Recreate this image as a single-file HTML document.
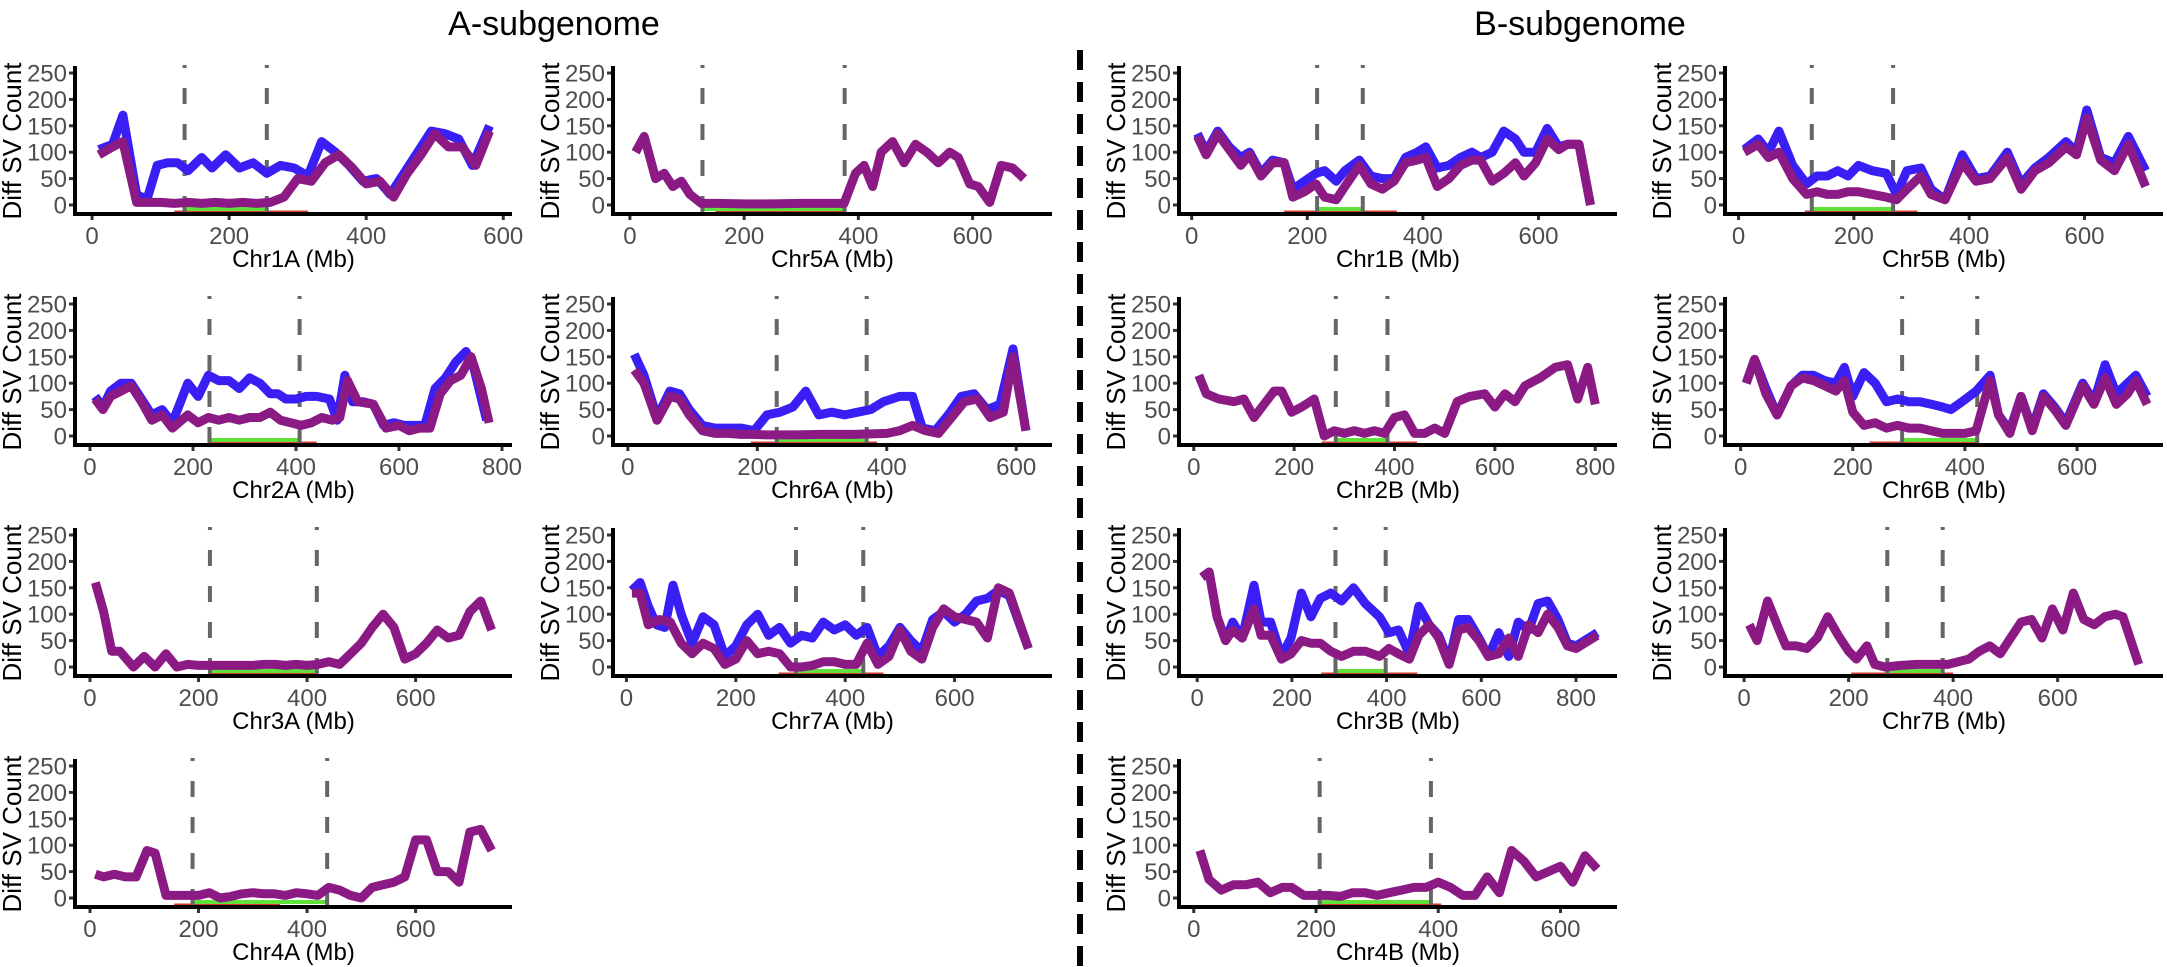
<!DOCTYPE html>
<html><head><meta charset="utf-8"><style>
html,body{margin:0;padding:0;background:#fff;}
svg{display:block;}
text{font-family:"Liberation Sans",Arial,sans-serif;}
</style></head><body>
<svg id="s" width="2167" height="967" viewBox="0 0 2167 967" xmlns="http://www.w3.org/2000/svg">
<text x="554" y="35" font-size="34" text-anchor="middle" fill="#000">A-subgenome</text>
<text x="1580" y="35" font-size="34" text-anchor="middle" fill="#000">B-subgenome</text>
<line x1="1080" y1="50" x2="1080" y2="967" stroke="#000" stroke-width="6" stroke-dasharray="20 12"/>
</svg>
<script>
const S=document.getElementById('s');const NS='http://www.w3.org/2000/svg';
function el(t,a,txt){const e=document.createElementNS(NS,t);for(const k in a)e.setAttribute(k,a[k]);if(txt!==undefined)e.textContent=txt;S.appendChild(e);return e;}
const COLS=[[75,512],[613,1052],[1179,1617],[1725,2163]];
const ROWS=[214,445,676,907];
const P=[
{n:'Chr1A',r:0,c:0,off:0,z0:133,k:0.99,d:[135,255],red:[120,315],max:600,
b:[[10,105],[30,115],[45,170],[65,20],[80,10],[95,75],[110,80],[125,80],[140,65],[160,90],[175,70],[195,95],[215,70],[235,80],[255,60],[275,75],[295,70],[315,55],[335,120],[355,100],[375,75],[395,45],[415,50],[435,20],[455,60],[475,100],[495,140],[515,135],[535,125],[555,75],[580,150]],
p:[[10,95],[30,110],[45,120],[65,5],[80,5],[100,5],[120,3],[140,5],[160,3],[180,5],[200,3],[220,5],[240,3],[260,5],[280,15],[300,50],[320,45],[340,80],[360,95],[380,70],[400,40],[420,45],[440,15],[460,60],[480,95],[500,135],[520,110],[540,110],[560,75],[580,140]]},
{n:'Chr5A',r:0,c:1,off:0,z0:910,k:0.825,d:[127,376],red:[150,376],max:600,
p:[[10,100],[25,130],[45,50],[60,60],[75,35],[90,45],[105,20],[125,3],[150,3],[200,2],[250,2],[300,3],[350,3],[375,3],[395,60],[410,75],[425,35],[440,100],[460,120],[480,80],[500,115],[520,100],[540,80],[560,100],[575,90],[595,40],[610,35],[630,5],[650,75],[670,70],[690,50]]},
{n:'Chr2A',r:1,c:0,off:0,z0:130,k:0.744,d:[232,407],red:[232,440],max:800,
b:[[10,75],[25,55],[40,85],[60,100],[80,100],[100,70],[120,40],[140,50],[160,25],[190,100],[210,75],[230,115],[250,105],[270,105],[290,90],[310,110],[330,100],[350,80],[365,80],[380,70],[400,70],[420,75],[440,75],[465,70],[480,30],[495,115],[510,65],[530,65],[550,60],[570,20],[590,25],[610,20],[630,20],[650,20],[670,90],[690,110],[710,140],[730,160],[745,130],[770,30]],
p:[[10,70],[25,50],[40,75],[60,85],[80,95],[100,65],[120,30],[140,40],[160,15],[190,40],[210,25],[230,35],[250,30],[270,35],[290,30],[310,35],[330,35],[350,45],[370,30],[390,25],[410,20],[430,25],[450,35],[470,30],[485,35],[500,105],[520,65],[550,60],[575,15],[600,20],[620,10],[640,15],[660,15],[680,80],[700,105],[720,115],[740,150],[760,90],[775,25]]},
{n:'Chr6A',r:1,c:1,off:0,z0:907,k:0.935,d:[230,369],red:[190,385],max:600,
b:[[10,155],[25,115],[45,35],[65,85],[80,80],[95,50],[115,20],[135,15],[155,15],[175,15],[195,10],[215,40],[235,45],[255,55],[275,85],[295,40],[315,45],[335,40],[355,45],[375,50],[395,65],[420,75],[440,75],[455,15],[475,10],[495,40],[515,75],[535,80],[555,50],[575,60],[595,165],[615,10]],
p:[[10,125],[25,100],[45,30],[65,75],[80,70],[95,40],[115,10],[135,5],[155,5],[175,3],[195,3],[215,2],[260,2],[300,3],[350,3],[400,5],[420,10],[440,20],[460,10],[480,5],[500,35],[520,65],[540,70],[560,35],[580,45],[595,150],[615,10]]},
{n:'Chr3A',r:2,c:0,off:0,z0:130,k:0.784,d:[221,418],red:[221,420],max:600,
p:[[10,160],[25,105],[40,30],[55,30],[80,0],[100,20],[120,0],[140,25],[160,0],[180,5],[200,3],[220,3],[240,3],[260,3],[280,3],[300,3],[320,5],[340,5],[360,3],[380,5],[400,3],[420,5],[440,10],[460,5],[480,25],[500,45],[520,75],[540,100],[560,75],[580,15],[600,25],[620,45],[640,70],[660,55],[680,60],[700,105],[720,125],[740,70]]},
{n:'Chr7A',r:2,c:1,off:0,z0:905,k:0.79,d:[310,433],red:[278,470],max:600,
b:[[10,145],[25,160],[40,115],[55,80],[70,75],[85,155],[100,100],[120,45],[140,95],[160,80],[180,20],[200,40],[220,80],[240,100],[260,60],[280,75],[300,45],[320,60],[340,55],[360,85],[380,70],[400,80],[420,60],[440,75],[460,20],[480,40],[500,75],[520,50],[540,30],[560,90],[580,105],[600,85],[620,100],[640,125],[660,130],[680,145],[700,135],[735,35]],
p:[[10,140],[25,140],[40,80],[60,90],[80,85],[100,45],[120,25],[140,45],[160,35],[180,5],[200,15],[220,50],[240,25],[260,30],[280,25],[300,0],[320,0],[340,3],[360,10],[380,10],[400,5],[420,5],[440,45],[460,5],[480,20],[500,70],[520,30],[540,15],[560,75],[580,110],[600,95],[620,90],[640,85],[660,55],[680,150],[700,140],[735,35]]},
{n:'Chr4A',r:3,c:0,off:0,z0:130,k:0.784,d:[189,437],red:[155,350],max:600,
p:[[10,45],[25,40],[45,45],[65,40],[85,40],[105,90],[120,85],[140,5],[160,5],[180,5],[200,5],[220,10],[240,0],[260,3],[280,8],[300,10],[320,8],[340,8],[360,5],[380,10],[400,8],[420,5],[440,20],[460,15],[480,5],[500,0],[520,20],[540,25],[560,30],[580,40],[600,110],[620,110],[640,50],[660,50],[680,30],[700,125],[720,130],[740,90]]},
{n:'Chr1B',r:0,c:2,off:1083,z0:157,k:0.835,d:[217,296],red:[160,355],max:600,
b:[[10,135],[25,100],[45,140],[65,110],[85,90],[100,100],[120,60],[140,85],[160,80],[175,30],[195,45],[215,60],[230,65],[250,45],[265,65],[290,85],[310,55],[330,50],[350,50],[370,90],[390,100],[405,110],[425,70],[445,75],[465,90],[485,100],[500,90],[520,100],[540,140],[560,125],[575,100],[595,100],[615,145],[635,110],[650,115],[670,115],[690,0]],
p:[[10,130],[25,95],[45,135],[65,105],[85,75],[100,95],[120,55],[140,80],[160,80],[175,15],[195,25],[215,40],[230,15],[250,10],[265,35],[290,75],[310,40],[330,30],[350,45],[370,80],[390,85],[405,90],[425,35],[445,50],[465,75],[485,85],[500,85],[520,45],[540,60],[560,80],[575,55],[595,80],[615,125],[635,105],[650,115],[670,115],[690,0]]},
{n:'Chr5B',r:0,c:3,off:1083,z0:947,k:0.833,d:[127,268],red:[115,310],max:600,
b:[[10,105],[34,125],[52,100],[70,140],[94,75],[118,40],[136,55],[154,55],[172,65],[190,55],[208,75],[232,65],[256,60],[274,20],[292,65],[316,70],[334,30],[358,10],[388,95],[412,50],[436,55],[466,100],[490,40],[514,70],[538,90],[568,120],[586,100],[604,180],[628,90],[652,80],[676,130],[706,65]],
p:[[10,100],[34,115],[52,90],[70,100],[94,50],[118,20],[136,25],[154,20],[172,20],[190,25],[208,25],[232,20],[256,15],[274,10],[292,30],[316,55],[334,20],[358,10],[388,80],[412,45],[436,50],[466,90],[490,30],[514,65],[538,80],[568,110],[586,95],[604,165],[628,85],[652,65],[676,115],[706,35]]},
{n:'Chr2B',r:1,c:2,off:1083,z0:160,k:0.725,d:[283,386],red:[255,445],max:800,
p:[[10,115],[25,80],[50,70],[80,65],[100,70],[120,35],[140,60],[160,85],[175,85],[195,45],[215,55],[240,70],[260,0],[280,10],[300,5],[320,10],[340,5],[360,10],[380,5],[400,35],[420,40],[440,5],[460,5],[480,15],[500,5],[525,65],[550,75],[580,80],[600,55],[620,80],[640,65],[660,95],[690,110],[720,130],[745,135],[765,70],[785,130],[800,60]]},
{n:'Chr6B',r:1,c:3,off:1083,z0:950,k:0.81,d:[288,422],red:[230,425],max:600,
b:[[10,100],[25,145],[45,90],[65,40],[90,95],[110,115],[130,115],[150,105],[170,100],[185,130],[200,75],[220,120],[240,100],[260,65],[280,70],[300,65],[320,65],[340,60],[360,55],[375,50],[395,65],[420,85],[445,115],[460,40],[480,10],[500,75],[520,15],[540,80],[560,55],[580,25],[610,100],[630,65],[650,135],[670,80],[690,100],[705,115],[725,75]],
p:[[10,100],[25,145],[45,80],[65,40],[90,95],[110,110],[130,105],[150,95],[170,85],[185,105],[200,45],[220,20],[240,25],[260,15],[280,20],[300,15],[320,15],[340,10],[360,5],[380,5],[400,5],[420,10],[445,105],[460,40],[480,5],[500,75],[520,10],[540,75],[560,50],[580,20],[610,95],[630,60],[650,110],[670,60],[690,80],[705,105],[725,60]]},
{n:'Chr3B',r:2,c:2,off:1083,z0:165,k:0.684,d:[292,398],red:[262,465],max:800,
b:[[10,170],[25,180],[42,95],[60,50],[75,85],[95,55],[120,155],[135,85],[155,85],[178,20],[198,55],[220,140],[240,95],[260,130],[282,140],[305,125],[330,150],[355,120],[385,95],[405,65],[425,70],[448,25],[468,115],[490,80],[510,60],[532,10],[552,90],[572,90],[595,55],[615,20],[637,65],[658,20],[678,85],[700,70],[720,120],[740,125],[762,90],[782,45],[800,40],[845,65]],
p:[[10,170],[25,180],[42,95],[60,50],[75,70],[95,55],[120,110],[135,60],[155,60],[178,15],[198,25],[220,50],[240,45],[260,45],[282,30],[305,20],[330,30],[355,30],[385,20],[405,35],[425,25],[448,15],[468,60],[490,80],[510,55],[532,5],[552,70],[572,75],[595,50],[615,20],[637,25],[658,55],[678,20],[700,80],[720,65],[740,100],[762,75],[782,40],[800,35],[845,60]]},
{n:'Chr7B',r:2,c:3,off:1083,z0:955,k:0.755,d:[274,380],red:[205,400],max:600,
p:[[10,80],[25,50],[45,125],[65,75],[80,40],[100,40],[120,35],[140,55],[160,95],[180,60],[200,30],[215,15],[235,40],[250,5],[270,0],[300,3],[330,5],[360,5],[390,5],[410,10],[430,15],[450,30],[470,40],[490,25],[510,55],[530,85],[550,90],[570,55],[590,110],[610,70],[630,140],[650,90],[670,80],[690,95],[710,100],[725,95],[755,5]]},
{n:'Chr4B',r:3,c:2,off:1083,z0:160,k:0.883,d:[206,388],red:[206,405],max:600,
p:[[10,90],[25,35],[45,15],[65,25],[85,25],[105,30],[125,10],[145,20],[160,20],[180,5],[200,5],[220,5],[240,3],[260,10],[280,10],[300,5],[320,10],[340,15],[360,20],[380,20],[400,30],[420,20],[440,5],[460,5],[480,40],[500,10],[520,90],[540,70],[560,40],[580,50],[600,60],[620,30],[640,80],[660,55]]}
];
const BLUE='#3a1ff5',PUR='#8b1a84',GREY='#4d4d4d';
for(const p of P){
 const [XL,XR]=COLS[p.c];const A=ROWS[p.r];
 const X=m=>p.off+(p.z0+m*p.k)/1.4446;
 const Y=v=>A-9-v*0.528;
 el('line',{x1:X(p.red[0]),x2:X(p.red[1]),y1:A-2,y2:A-2,stroke:'#d23a2a','stroke-width':3});
 el('line',{x1:X(p.d[0]),x2:X(p.d[1]),y1:A-5,y2:A-5,stroke:'#5fe33a','stroke-width':4});
 for(const d of p.d){el('line',{x1:X(d),x2:X(d),y1:A-149,y2:A-2,stroke:'#666','stroke-width':4,'stroke-dasharray':'16 20','stroke-dashoffset':13});}
 const pts=a=>a.map(q=>X(q[0]).toFixed(1)+','+Y(q[1]).toFixed(1)).join(' ');
 if(p.b)el('polyline',{points:pts(p.b),fill:'none',stroke:BLUE,'stroke-width':9,'stroke-linejoin':'round'});
 el('polyline',{points:pts(p.p),fill:'none',stroke:PUR,'stroke-width':9,'stroke-linejoin':'round'});
 el('line',{x1:XL,x2:XL,y1:A-148,y2:A+2,stroke:'#000','stroke-width':4});
 el('line',{x1:XL-2,x2:XR,y1:A,y2:A,stroke:'#000','stroke-width':4});
 for(let v=0;v<=250;v+=50){const y=Y(v);
  el('line',{x1:XL-6,x2:XL-2,y1:y,y2:y,stroke:'#333','stroke-width':3});
  el('text',{x:XL-8,y:y+8.5,'font-size':24,'text-anchor':'end',fill:GREY},String(v));}
 for(let m=0;m<=p.max;m+=200){const x=X(m);
  el('line',{x1:x,x2:x,y1:A+2,y2:A+6,stroke:'#333','stroke-width':3});
  el('text',{x:x,y:A+30,'font-size':24,'text-anchor':'middle',fill:GREY},String(m));}
 el('text',{x:(XL+XR)/2,y:A+53,'font-size':24,'text-anchor':'middle',fill:'#000'},p.n+' (Mb)');
 const tx=XL-54,ty=A-73;
 el('text',{x:tx,y:ty,'font-size':26,'text-anchor':'middle',fill:'#000',transform:`rotate(-90 ${tx} ${ty})`},'Diff SV Count');
}
</script>
</body></html>
